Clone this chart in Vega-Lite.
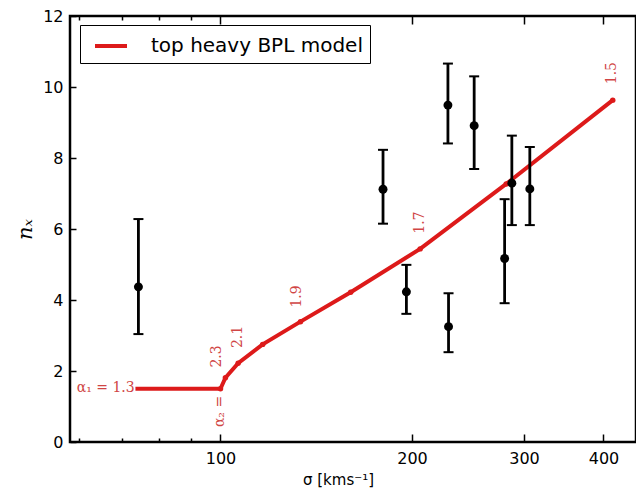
{
  "$schema": "https://vega.github.io/schema/vega-lite/v6.json",
  "width": 566,
  "height": 426,
  "autosize": {"type": "none"},
  "padding": {"left": 70, "top": 16, "right": 0, "bottom": 53},
  "background": "white",
  "datasets": {
    "model": [
      {"sigma": 73.5, "n": 1.5},
      {"sigma": 100, "n": 1.5},
      {"sigma": 101.8, "n": 1.81},
      {"sigma": 106.6, "n": 2.22},
      {"sigma": 116.5, "n": 2.75},
      {"sigma": 133.6, "n": 3.39},
      {"sigma": 160.2, "n": 4.22},
      {"sigma": 206, "n": 5.44},
      {"sigma": 281.3, "n": 7.27},
      {"sigma": 413.7, "n": 9.63}
    ],
    "obs": [
      {"sigma": 74.3, "n": 4.37, "lo": 3.04, "hi": 6.28},
      {"sigma": 180.1, "n": 7.12, "lo": 6.15, "hi": 8.23},
      {"sigma": 227.8, "n": 9.49, "lo": 8.41, "hi": 10.66},
      {"sigma": 250.5, "n": 8.91, "lo": 7.69, "hi": 10.3},
      {"sigma": 287.1, "n": 7.29, "lo": 6.11, "hi": 8.63},
      {"sigma": 306.4, "n": 7.13, "lo": 6.11, "hi": 8.31},
      {"sigma": 279.7, "n": 5.17, "lo": 3.91, "hi": 6.84},
      {"sigma": 196, "n": 4.23, "lo": 3.61, "hi": 4.99},
      {"sigma": 228.3, "n": 3.25, "lo": 2.53, "hi": 4.19}
    ],
    "rotlabels": [
      {"sigma": 98.8, "n": 2.41, "text": "2.3"},
      {"sigma": 106.5, "n": 2.96, "text": "2.1"},
      {"sigma": 132, "n": 4.1, "text": "1.9"},
      {"sigma": 206.1, "n": 6.18, "text": "1.7"},
      {"sigma": 412.2, "n": 10.39, "text": "1.5"},
      {"sigma": 100, "n": 0.86, "text": "α₂ ="}
    ],
    "hlabels": [
      {"sigma": 73.3, "n": 1.51, "text": "α₁ = 1.3"}
    ]
  },
  "config": {
    "font": "DejaVu Sans",
    "view": {"stroke": "black", "strokeWidth": 2.5},
    "axis": {
      "grid": false,
      "domain": false,
      "tickColor": "black",
      "tickWidth": 1.5,
      "labelColor": "black",
      "labelFont": "DejaVu Sans",
      "labelFontSize": 16,
      "titleColor": "black",
      "titleFontWeight": "normal"
    }
  },
  "resolve": {"axis": {"x": "independent", "y": "independent"}},
  "layer": [
    {
      "data": {"name": "model"},
      "mark": {"type": "line", "strokeWidth": 4},
      "encoding": {
        "x": {
          "field": "sigma", "type": "quantitative",
          "scale": {"type": "log", "domain": [58, 450], "nice": false},
          "axis": {
            "orient": "bottom", "values": [100, 200, 300, 400], "format": "d",
            "tickSize": -8, "labelPadding": 16,
            "title": "σ [kms⁻¹]", "titleFontSize": 15, "titleFont": "DejaVu Sans",
            "titleX": 268, "titleY": 30, "titleBaseline": "top", "titleAlign": "center"
          }
        },
        "y": {
          "field": "n", "type": "quantitative",
          "scale": {"domain": [0, 12], "nice": false},
          "axis": {
            "orient": "left",
            "values": [0, 2, 4, 6, 8, 10, 12], "tickSize": -6, "labelPadding": 13,
            "title": "nₓ", "titleFont": "DejaVu Serif", "titleFontStyle": "italic",
            "titleFontSize": 21, "titleAngle": 270, "titleX": -45, "titleY": 213,
            "titleBaseline": "middle", "titleAlign": "center"
          }
        },
        "color": {
          "datum": "top heavy BPL model",
          "type": "nominal",
          "scale": {"range": ["#dd1a1a"]},
          "legend": {
            "orient": "none", "legendX": 10, "legendY": 9, "title": null,
            "padding": 7, "strokeColor": "black", "fillColor": "white",
            "symbolType": "M-1.333,0H1.333", "symbolSize": 576, "symbolStrokeWidth": 4,
            "symbolOffset": 10, "labelOffset": 26, "labelFontSize": 20, "labelLimit": 500,
            "labelFont": "DejaVu Sans", "labelColor": "black"
          }
        }
      }
    },
    {
      "data": {"name": "model"},
      "transform": [{"filter": "datum.sigma > 80"}],
      "mark": {"type": "circle", "color": "#dd1a1a", "opacity": 1, "size": 30},
      "encoding": {
        "x": {
          "field": "sigma", "type": "quantitative",
          "axis": {"orient": "bottom", "values": [60, 70, 80, 90], "labels": false, "tickSize": -4, "title": null}
        },
        "y": {"field": "n", "type": "quantitative", "axis": null}
      }
    },
    {
      "data": {"name": "obs"},
      "mark": {"type": "rule", "color": "black", "strokeWidth": 2.8},
      "encoding": {
        "x": {"field": "sigma", "type": "quantitative", "axis": null},
        "y": {"field": "lo", "type": "quantitative", "axis": null},
        "y2": {"field": "hi"}
      }
    },
    {
      "data": {"name": "obs"},
      "mark": {"type": "tick", "color": "black", "orient": "horizontal", "size": 10, "thickness": 2, "opacity": 1},
      "encoding": {
        "x": {"field": "sigma", "type": "quantitative", "axis": null},
        "y": {"field": "lo", "type": "quantitative", "axis": null}
      }
    },
    {
      "data": {"name": "obs"},
      "mark": {"type": "tick", "color": "black", "orient": "horizontal", "size": 10, "thickness": 2, "opacity": 1},
      "encoding": {
        "x": {"field": "sigma", "type": "quantitative", "axis": null},
        "y": {"field": "hi", "type": "quantitative", "axis": null}
      }
    },
    {
      "data": {"name": "obs"},
      "mark": {"type": "circle", "color": "black", "opacity": 1, "size": 80},
      "encoding": {
        "x": {
          "field": "sigma", "type": "quantitative",
          "axis": {"orient": "top", "values": [100, 200, 300, 400], "labels": false, "tickSize": -8, "title": null}
        },
        "y": {"field": "n", "type": "quantitative", "axis": null}
      }
    },
    {
      "data": {"name": "rotlabels"},
      "mark": {"type": "text", "angle": 270, "align": "center", "baseline": "middle", "font": "DejaVu Serif", "fontSize": 14, "color": "#d04545"},
      "encoding": {
        "x": {
          "field": "sigma", "type": "quantitative",
          "axis": {"orient": "top", "values": [60, 70, 80, 90], "labels": false, "tickSize": -4, "title": null}
        },
        "y": {"field": "n", "type": "quantitative", "axis": null},
        "text": {"field": "text"}
      }
    },
    {
      "data": {"name": "hlabels"},
      "mark": {"type": "text", "align": "right", "baseline": "middle", "font": "DejaVu Serif", "fontSize": 14, "color": "#d04545"},
      "encoding": {
        "x": {"field": "sigma", "type": "quantitative", "axis": null},
        "y": {"field": "n", "type": "quantitative", "axis": null},
        "text": {"field": "text"}
      }
    }
  ]
}
